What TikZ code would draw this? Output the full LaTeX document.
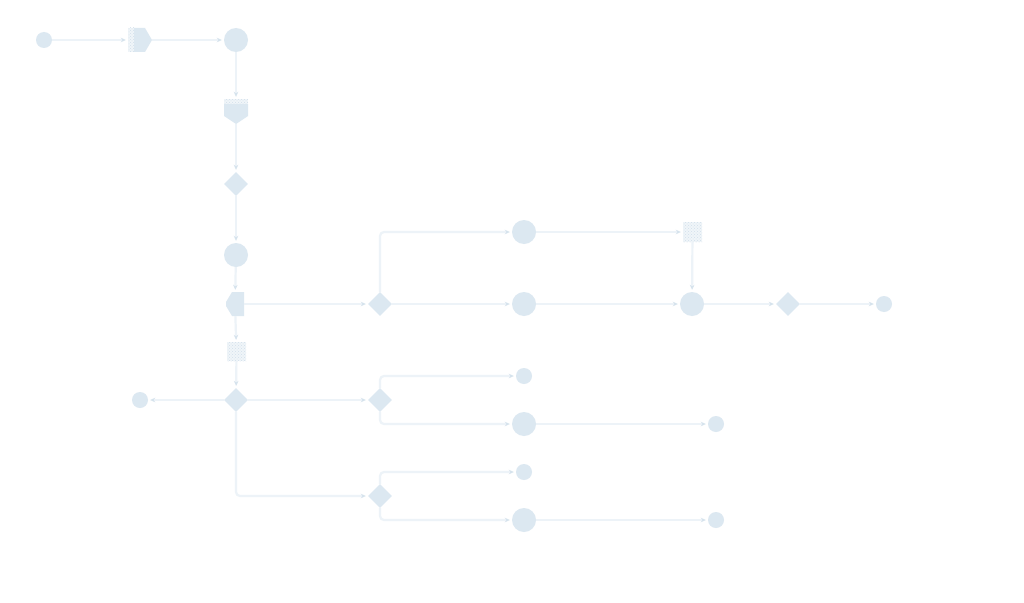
\documentclass[tikz,border=0pt]{standalone}
\usetikzlibrary{arrows.meta,shapes.geometric,patterns}
\definecolor{shapec}{HTML}{DCE8F1}
\definecolor{linec}{HTML}{EDF3F8}
\definecolor{arrowc}{HTML}{D6E3ED}
\definecolor{hatchc}{HTML}{D2E0EB}
\definecolor{hatchbg}{HTML}{F0F5F9}
\tikzset{
  flow/.style={draw=linec, line width=2.2pt, rounded corners=4pt,
    -{Stealth[length=5pt,width=4.5pt,color=arrowc]}, shorten >=2pt},
  smallev/.style={circle, fill=shapec, minimum size=16pt, inner sep=0pt},
  bigev/.style={circle, fill=shapec, minimum size=24pt, inner sep=0pt},
  gate/.style={diamond, aspect=1, fill=shapec, minimum size=24pt, inner sep=0pt},
  holder/.style={rectangle, inner sep=0pt},
  hatch/.style={fill=hatchbg, postaction={pattern=crosshatch dots, pattern color=hatchc}}
}
\begin{document}
\begin{tikzpicture}[x=1pt,y=-1pt]
\useasboundingbox[fill=white] (0,0) rectangle (1024,602);

% custom shapes (drawn directly)
\fill[hatch] (128,28) rectangle (134,52);
\fill[shapec] (134,28) -- (145,28) -- (152,40) -- (145,52) -- (134,52) -- cycle;
\fill[hatch] (224,99) rectangle (248,104);
\fill[shapec] (224,104) -- (248,104) -- (248,116) -- (236,124) -- (224,116) -- cycle;
\fill[shapec] (244,292) -- (232,292) -- (226,302) -- (226,306) -- (232,316) -- (244,316) -- cycle;
\fill[hatch] (227,342) rectangle (246,361);
\fill[hatch] (683,222) rectangle (702,242);

% holder nodes for the custom shapes
\node[holder, minimum width=24pt, minimum height=24pt] (p1) at (140,40) {};
\node[holder, minimum width=24pt, minimum height=25pt] (t1) at (236,111.5) {};
\node[holder, minimum width=18pt, minimum height=24pt] (h1) at (235,304) {};
\node[holder, minimum width=19pt, minimum height=19pt] (b1) at (236.5,351.5) {};
\node[holder, minimum width=19pt, minimum height=20pt] (b2) at (692.5,232) {};

% events and gateways
\node[smallev] (s1) at (44,40) {};
\node[bigev] (c1) at (236,40) {};
\node[gate] (d1) at (236,184) {};
\node[bigev] (c2) at (236,255) {};
\node[gate] (d2) at (236,400) {};
\node[smallev] (e2) at (140,400) {};
\node[gate] (d3) at (380,304) {};
\node[bigev] (c3) at (524,232) {};
\node[bigev] (c4) at (524,304) {};
\node[bigev] (c5) at (692,304) {};
\node[gate] (d4) at (788,304) {};
\node[smallev] (e1) at (884,304) {};
\node[gate] (d5) at (380,400) {};
\node[smallev] (e3) at (524,376) {};
\node[bigev] (c6) at (524,424) {};
\node[smallev] (e4) at (716,424) {};
\node[gate] (d6) at (380,496) {};
\node[smallev] (e5) at (524,472) {};
\node[bigev] (c7) at (524,520) {};
\node[smallev] (e6) at (716,520) {};

% connectors
\draw[flow] (s1) -- (p1);
\draw[flow] (p1) -- (c1);
\draw[flow] (c1) -- (t1);
\draw[flow] (t1) -- (d1);
\draw[flow] (d1) -- (c2);
\draw[flow] (c2) -- (h1);
\draw[flow] (h1) -- (b1);
\draw[flow] (b1) -- (d2);
\draw[flow] (h1) -- (d3);
\draw[flow] (d3.north) |- (c3.west);
\draw[flow] (d3) -- (c4);
\draw[flow] (c3) -- (b2);
\draw[flow] (b2) -- (c5);
\draw[flow] (c4) -- (c5);
\draw[flow] (c5) -- (d4);
\draw[flow] (d4) -- (e1);
\draw[flow] (d2) -- (e2);
\draw[flow] (d2) -- (d5);
\draw[flow] (d2.south) |- (d6.west);
\draw[flow] (d5.north) |- (e3.west);
\draw[flow] (d5.south) |- (c6.west);
\draw[flow] (c6) -- (e4);
\draw[flow] (d6.north) |- (e5.west);
\draw[flow] (d6.south) |- (c7.west);
\draw[flow] (c7) -- (e6);
\end{tikzpicture}
\end{document}
